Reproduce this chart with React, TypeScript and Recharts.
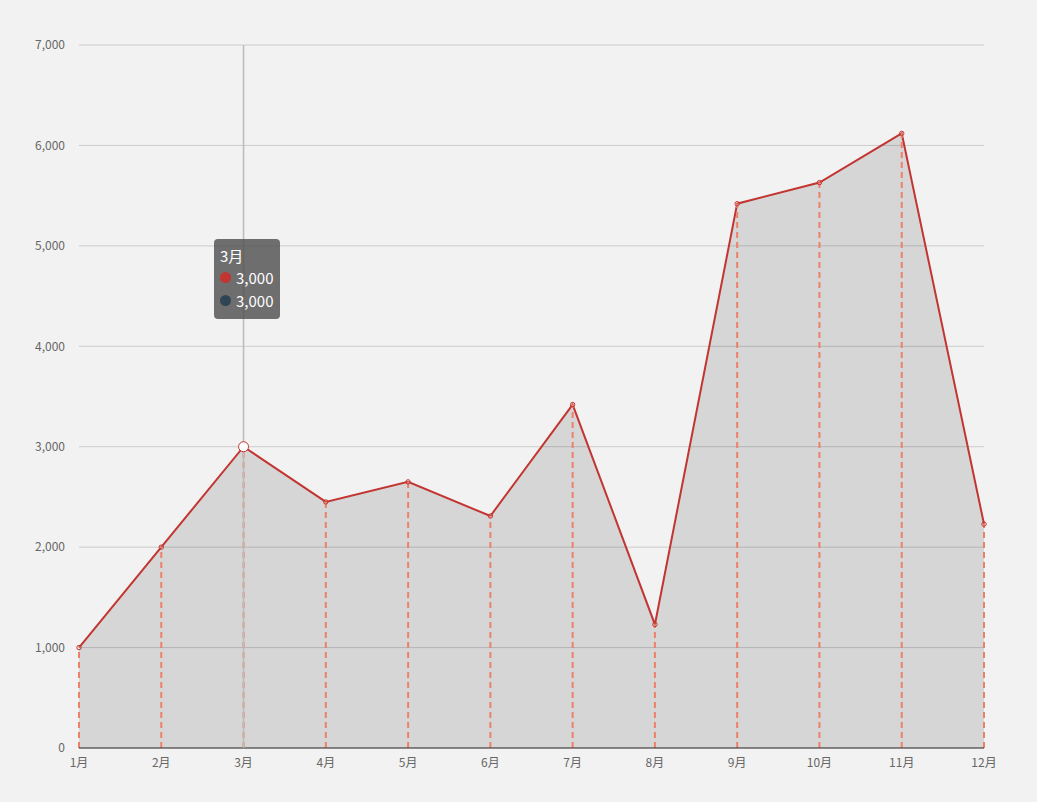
import {
  Area,
  ComposedChart,
  CartesianGrid,
  ReferenceLine,
  Tooltip,
  XAxis,
  YAxis,
} from "recharts";

const months = ["1月", "2月", "3月", "4月", "5月", "6月", "7月", "8月", "9月", "10月", "11月", "12月"];
const sales = [1000, 2000, 3000, 2450, 2650, 2310, 3420, 1230, 5420, 5630, 6120, 2230];
const yTicks = [0, 1000, 2000, 3000, 4000, 5000, 6000, 7000];

const data = months.map((m, i) => ({ month: m, sales: sales[i] }));

const fmt = (v: number) => v.toLocaleString("en-US");

function TipBox({ active, payload, label }: any) {
  if (!active || !payload || !payload.length) return null;
  const v = payload[0].value as number;
  const row = (color: string) => (
    <div style={{ display: "flex", alignItems: "center", height: 23 }}>
      <span
        style={{
          width: 11,
          height: 11,
          borderRadius: 6,
          background: color,
          marginRight: 5,
          display: "inline-block",
        }}
      />
      {fmt(v)}
    </div>
  );
  return (
    <div
      style={{
        background: "rgba(80,80,80,0.82)",
        borderRadius: 4,
        color: "#fff",
        fontSize: 15,
        padding: "7px 7px 7px 6px",
        lineHeight: "20px",
      }}
    >
      <div>{label}</div>
      {row("#c23531")}
      {row("#2f4554")}
    </div>
  );
}

export default function App() {
  return (
    <div
      style={{
        position: "fixed",
        left: 0,
        top: 0,
        width: 1037,
        height: 802,
        background: "#f2f2f2",
        fontFamily: "'Noto Sans CJK SC', 'Noto Sans', sans-serif",
      }}
    >
      <ComposedChart
        width={1037}
        height={802}
        data={data}
        margin={{ top: 45, right: 53, left: 19, bottom: 24 }}
      >
        <CartesianGrid stroke="#cccccc" vertical={false} />
        <Area
          type="linear"
          dataKey="sales"
          stroke="#c23531"
          strokeWidth={2}
          fill="#000"
          fillOpacity={0.115}
          dot={{ r: 2.2, fill: "#fff", stroke: "#c23531", strokeWidth: 1 }}
          activeDot={{ r: 5, fill: "#fff", stroke: "#c23531", strokeWidth: 1 }}
          isAnimationActive={false}
        />
        {data.map((d) => (
          <ReferenceLine
            key={d.month}
            segment={[
              { x: d.month, y: 0 },
              { x: d.month, y: d.sales },
            ]}
            stroke="#f07f6a"
            strokeWidth={2}
            strokeDasharray="6 4"
          />
        ))}
        <XAxis
          dataKey="month"
          tick={{ fontSize: 12, fill: "#666" }}
          tickLine={false}
          axisLine={{ stroke: "#333", strokeWidth: 1 }}
          tickMargin={4}
          interval={0}
          height={30}
        />
        <YAxis
          domain={[0, 7000]}
          ticks={yTicks}
          tickFormatter={fmt}
          tick={{ fontSize: 12, fill: "#666" }}
          tickLine={false}
          axisLine={false}
          width={60}
          tickMargin={8}
        />
        <Tooltip
          content={<TipBox />}
          defaultIndex={2}
          active
          position={{ x: 214, y: 239 }}
          cursor={{ stroke: "#bbb", strokeWidth: 1.5 }}
          isAnimationActive={false}
        />
      </ComposedChart>
    </div>
  );
}
